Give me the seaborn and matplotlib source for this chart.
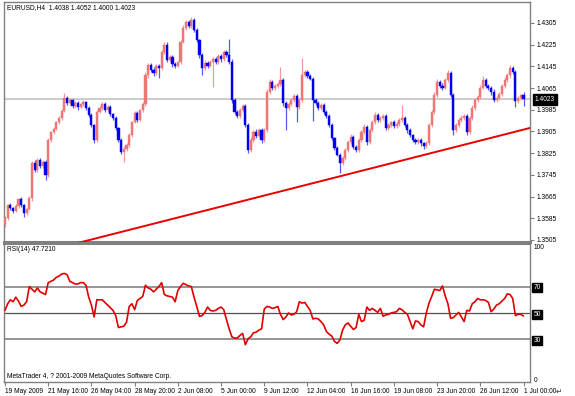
import numpy as np
import matplotlib
matplotlib.use("Agg")
import matplotlib.pyplot as plt
import matplotlib.transforms as mtransforms
import seaborn as sns

# ---------------- data ----------------
symbol_title = "EURUSD,H4  1.4038 1.4052 1.4000 1.4023"
rsi_title = "RSI(14) 47.7210"
copyright_text = "MetaTrader 4, ? 2001-2009 MetaQuotes Software Corp."

closes = [
    1.3586, 1.3634, 1.3623, 1.3612, 1.3630, 1.3656, 1.3634, 1.3605, 1.3619, 1.3660,
    1.3789, 1.3763, 1.3800, 1.3778, 1.3793, 1.3745, 1.3874, 1.3903, 1.3914, 1.3940,
    1.3955, 1.3981, 1.4029, 1.4010, 1.4021, 1.3999, 1.4010, 1.3995, 1.4007, 1.4014,
    1.3992, 1.3966, 1.3929, 1.3874, 1.3977, 1.3992, 1.4007, 1.3984, 1.3995, 1.3970,
    1.3955, 1.3918, 1.3874, 1.3830, 1.3841, 1.3855, 1.3892, 1.3940, 1.3973, 1.3948,
    1.3984, 1.4007, 1.4113, 1.4150, 1.4132, 1.4121, 1.4147, 1.4139, 1.4198, 1.4224,
    1.4169, 1.4180, 1.4154, 1.4147, 1.4161, 1.4235, 1.4287, 1.4309, 1.4294, 1.4316,
    1.4279, 1.4242, 1.4187, 1.4139, 1.4158, 1.4147, 1.4161, 1.4172, 1.4161, 1.4183,
    1.4172, 1.4198, 1.4187, 1.4161, 1.4021, 1.3977, 1.3962, 1.3984, 1.3999, 1.3929,
    1.3837, 1.3874, 1.3903, 1.3889, 1.3911, 1.3874, 1.3911, 1.4051, 1.4088, 1.4066,
    1.4073, 1.4080, 1.4095, 1.4010, 1.3992, 1.4007, 1.4021, 1.4036, 1.3995, 1.4021,
    1.4113, 1.4124, 1.4110, 1.4099, 1.4021, 1.4010, 1.3992, 1.4003, 1.3977, 1.3962,
    1.3929, 1.3881, 1.3844, 1.3819, 1.3789, 1.3807, 1.3837, 1.3866, 1.3885, 1.3848,
    1.3837, 1.3874, 1.3903, 1.3922, 1.3866, 1.3911, 1.3940, 1.3966, 1.3948, 1.3955,
    1.3962, 1.3918, 1.3929, 1.3940, 1.3925, 1.3933, 1.3948, 1.3955, 1.3929, 1.3911,
    1.3892, 1.3874, 1.3866, 1.3874, 1.3863, 1.3852, 1.3863, 1.3929, 1.3977, 1.4040,
    1.4088, 1.4073, 1.4066, 1.4095, 1.4121, 1.4040, 1.3911, 1.3929, 1.3948, 1.3955,
    1.3962, 1.3903, 1.3955, 1.3992, 1.4021, 1.4032, 1.4066, 1.4095, 1.4073, 1.4066,
    1.4051, 1.4021, 1.4029, 1.4043, 1.4073, 1.4095, 1.4113, 1.4139, 1.4124, 1.4018,
    1.4030, 1.4038, 1.4023,
]
first_open = 1.3565

# wick lengths beyond the candle body, in pips
wick_up_pips = [
    6, 5, 8, 4, 6, 5, 7, 4, 5, 6,
    8, 10, 6, 7, 5, 8, 6, 5, 9, 4,
    6, 7, 18, 6, 8, 5, 7, 6, 4, 8,
    5, 6, 7, 5, 9, 6, 8, 5, 7, 6,
    4, 6, 5, 7, 9, 8, 6, 5, 7, 6,
    5, 7, 10, 8, 6, 9, 7, 5, 8, 10,
    12, 8, 6, 7, 5, 8, 9, 7, 6, 11,
    8, 6, 5, 7, 9, 6, 8, 7, 6, 9,
    7, 8, 6, 60, 10, 8, 7, 9, 6, 8,
    7, 9, 6, 10, 7, 8, 6, 10, 12, 7,
    8, 6, 48, 9, 7, 8, 6, 9, 7, 8,
    63, 9, 7, 6, 8, 7, 9, 6, 7, 8,
    6, 7, 5, 8, 6, 9, 7, 8, 10, 6,
    7, 8, 6, 12, 8, 7, 9, 10, 6, 8,
    7, 6, 8, 5, 7, 9, 6, 48, 7, 6,
    8, 5, 7, 6, 8, 5, 7, 9, 8, 10,
    12, 7, 9, 8, 11, 6, 7, 8, 6, 9,
    7, 8, 6, 9, 7, 8, 10, 14, 6, 8,
    7, 9, 6, 8, 7, 10, 8, 11, 9, 8,
    6, 7, 14,
]
wick_down_pips = [
    11, 7, 6, 9, 5, 7, 6, 15, 8, 5,
    10, 9, 6, 8, 7, 18, 8, 6, 7, 5,
    6, 8, 5, 9, 7, 8, 6, 10, 5, 7,
    6, 8, 7, 11, 6, 5, 7, 8, 6, 9,
    7, 8, 6, 9, 37, 7, 6, 8, 5, 9,
    6, 8, 7, 9, 6, 10, 7, 37, 6, 8,
    9, 7, 10, 8, 6, 7, 5, 8, 6, 7,
    9, 8, 10, 26, 7, 9, 6, 92, 8, 7,
    9, 6, 8, 7, 10, 9, 8, 6, 7, 9,
    11, 8, 7, 9, 6, 10, 7, 8, 6, 9,
    7, 8, 9, 10, 80, 7, 8, 6, 55, 7,
    8, 7, 9, 6, 77, 8, 7, 9, 6, 8,
    9, 7, 8, 6, 37, 7, 8, 6, 9, 7,
    8, 6, 7, 9, 10, 7, 8, 6, 9, 7,
    8, 9, 6, 7, 8, 6, 9, 7, 8, 10,
    7, 9, 8, 6, 10, 11, 7, 8, 6, 9,
    7, 8, 9, 6, 8, 7, 19, 8, 7, 9,
    8, 11, 7, 6, 9, 7, 8, 6, 9, 7,
    10, 8, 7, 9, 6, 8, 7, 9, 8, 23,
    7, 9, 23,
]

rsi_values = [
    52, 57, 60, 58.5, 62, 59, 55, 56, 58.5, 70,
    68, 66, 69, 66, 65, 64, 73, 74, 75, 77,
    78, 79.5, 80, 79, 74, 73, 72, 72, 73, 73,
    71, 62, 56, 47, 60, 60, 60, 58, 56, 54,
    52, 48, 39, 39.5, 40, 43, 55, 57, 52.5, 59.5,
    61, 62.5, 71, 69, 68, 66, 68, 70, 73, 64,
    63, 62.5, 62, 58.5, 67, 70, 72.5, 71.5, 70.5, 70,
    62, 55, 47.5, 48, 50.5, 54.5, 52, 51.5, 52, 53.5,
    54.5, 52.5, 45, 38, 32, 31, 31, 33, 34.5, 26,
    30.5, 32, 35, 35.5, 37, 38, 53, 55, 54.5, 53.5,
    54, 55, 49, 45, 47, 50, 48.5, 49, 51, 58.5,
    57.5, 58, 55, 52, 45.5, 46, 45.5, 43.5, 41, 36,
    34, 32.5, 28.5, 27, 29.5, 37, 41, 42.5, 40, 37.5,
    39, 49, 43.5, 44.5, 54.5, 52, 53.5, 52, 50.5, 53.5,
    47.5, 48.5, 49, 50, 50.5, 51, 53.5, 52.5, 50.5, 49,
    43.5, 38, 44, 43.5, 41, 39.5, 50, 57.5, 62.5, 68,
    67.5, 67, 70.5, 63, 57, 46, 46.5, 48.5, 50.5, 47,
    43.5, 52, 51.5, 57, 58.5, 61, 60, 60, 59.5, 58,
    51, 53, 56, 57, 59, 61, 64.5, 64, 61, 48,
    49, 49, 47.721,
]

trend_bars = [27.0, 194.4]
trend_prices = [1.3494, 1.3918]
price_ticks = [1.3505, 1.3585, 1.3665, 1.3745, 1.3825, 1.3905,
               1.3985, 1.4065, 1.4145, 1.4225, 1.4305]
last_price = 1.4023
rsi_levels = [70, 50, 30]
date_tick_bars = [0, 16, 32, 48, 64, 80, 96, 112, 128, 144, 160, 176, 192]
date_labels = ["19 May 2009", "21 May 16:00", "26 May 04:00", "28 May 20:00",
               "2 Jun 08:00", "5 Jun 00:00", "9 Jun 12:00", "12 Jun 04:00",
               "16 Jun 16:00", "19 Jun 08:00", "23 Jun 20:00", "26 Jun 12:00",
               "1 Jul 00:00"]

# ---------------- style ----------------
sns.set_theme(style="white")
plt.rcParams["font.family"] = ["Liberation Sans", "DejaVu Sans"]
FS = 4.8
BULL = "#F07676"
BULL_W = "#F29A9A"
BEAR = "#0000EE"
BEAR_W = "#5A5AF2"
GRID_GRAY = "#808080"

W, H = 575, 396
fig = plt.figure(figsize=(W / 100, H / 100), dpi=100)
fig.patch.set_facecolor("white")

ax = fig.add_axes([4 / W, 1 - 242 / H, 526 / W, 240 / H])
ax2 = fig.add_axes([4 / W, 1 - 382 / H, 526 / W, 138 / H])

n = len(closes)
x = np.arange(n)
c = np.array(closes)
o = np.array([first_open] + closes[:-1])
hi = np.maximum(o, c) + np.array(wick_up_pips) * 1e-4
lo = np.minimum(o, c) - np.array(wick_down_pips) * 1e-4
up = c >= o

# current price line
ax.axhline(last_price, color="#C4C4C4", lw=1.2, zorder=0)

# candles
ax.vlines(x[up], lo[up], hi[up], color=BULL_W, lw=0.9, zorder=2)
ax.vlines(x[~up], lo[~up], hi[~up], color=BEAR_W, lw=0.9, zorder=2)
ax.bar(x[up], (c - o)[up], bottom=o[up], width=0.8, color=BULL,
       edgecolor=BULL, linewidth=0.3, zorder=3)
ax.bar(x[~up], (c - o)[~up], bottom=o[~up], width=0.8, color=BEAR,
       edgecolor=BEAR, linewidth=0.3, zorder=3)

# trend line
sns.lineplot(x=trend_bars, y=trend_prices, ax=ax, color="#E80000", lw=1.4,
             zorder=4)

ax.set_xlim(-0.37, 194.4)
ax.set_ylim(1.34975, 1.43824)
ax.set_xticks([])
ax.yaxis.tick_right()
ax.set_yticks(price_ticks)
ax.set_yticklabels([f"{p:.4f}" for p in price_ticks])
ax.tick_params(axis="y", which="both", right=True, length=3, width=0.8,
               color=GRID_GRAY, pad=1.5, labelsize=FS, labelcolor="black")
ax.set_xlabel("")
ax.set_ylabel("")
for side, sp in ax.spines.items():
    sp.set_color(GRID_GRAY)
    sp.set_linewidth(1.0)
ax.spines["bottom"].set_linewidth(2.2)

# last price box
tr = mtransforms.blended_transform_factory(ax.transAxes, ax.transData)
ax.annotate(f"{last_price:.4f}", xy=(1.0, last_price), xycoords=tr,
            xytext=(3.5, 0), textcoords="offset points", ha="left",
            va="center", color="white", fontsize=FS,
            bbox=dict(boxstyle="square,pad=0.25", facecolor="black",
                      edgecolor="black"), annotation_clip=False)

fig.text(7 / W, 1 - 7.5 / H, symbol_title, ha="left", va="center",
         fontsize=FS, color="black")

# ---------------- RSI ----------------
for lvl in rsi_levels:
    if lvl == 50:
        ax2.axhline(lvl, color="#505050", lw=0.9, zorder=1)
    else:
        ax2.axhline(lvl, color="#8C8C8C", lw=1.3, zorder=1)

sns.lineplot(x=x, y=rsi_values, ax=ax2, color="#E00000", lw=1.2, zorder=3)

ax2.set_xlim(-0.37, 194.4)
ax2.set_ylim(-2.27, 102.27)
ax2.yaxis.tick_right()
ax2.set_yticks([0, 30, 50, 70, 100])
ax2.set_yticklabels(["0", "30", "50", "70", "100"])
ax2.tick_params(axis="y", which="both", right=True, length=0, pad=2.5,
                labelsize=FS, labelcolor="black")
for t, v in zip(ax2.get_yticklabels(), [0, 30, 50, 70, 100]):
    if v in rsi_levels:
        t.set_color("white")
        t.set_bbox(dict(boxstyle="square,pad=0.15", facecolor="black",
                        edgecolor="black"))

ax2.set_xticks(date_tick_bars)
ax2.set_xticklabels(date_labels)
ax2.tick_params(axis="x", which="both", bottom=True, length=3, width=0.8,
                color=GRID_GRAY, pad=1.5, labelsize=FS, labelcolor="black")
for t in ax2.get_xticklabels():
    t.set_horizontalalignment("left")
ax2.set_xlabel("")
ax2.set_ylabel("")
for side, sp in ax2.spines.items():
    sp.set_color(GRID_GRAY)
    sp.set_linewidth(1.0)
ax2.spines["top"].set_linewidth(1.5)

fig.text(7 / W, 1 - 250 / H, rsi_title, ha="left", va="center",
         fontsize=FS, color="black")
fig.text(7 / W, 1 - 377 / H, copyright_text, ha="left", va="center",
         fontsize=FS, color="black")
fig.text(556 / W, 1 - 391 / H, "\u21b5", ha="left", va="center",
         fontsize=5.5, color="#404040", family="DejaVu Sans")

fig.savefig("out.png", dpi=100, facecolor="white")
